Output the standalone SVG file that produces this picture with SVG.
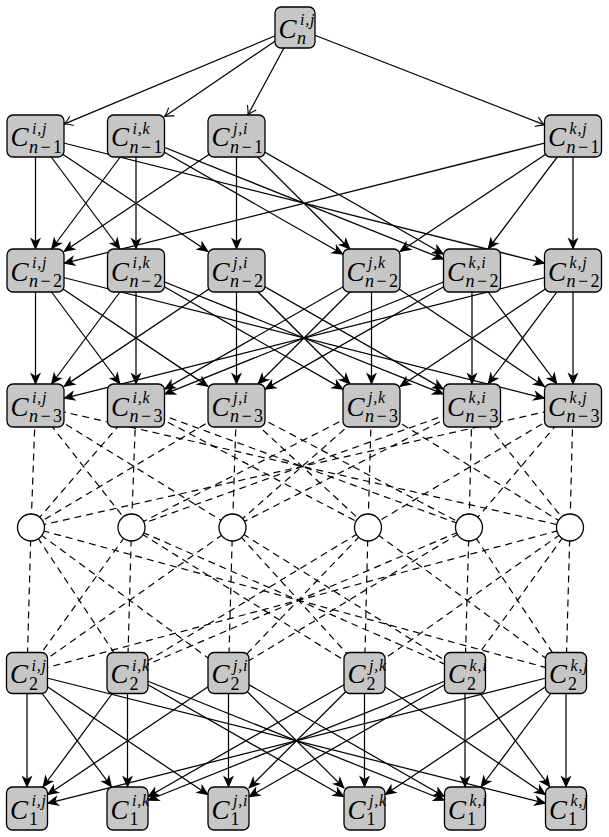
<svg xmlns="http://www.w3.org/2000/svg" width="609" height="837" viewBox="0 0 609 837">
<style>
.nd{fill:#c6c6c6;stroke:#000;stroke-width:1.3}
.ci{fill:#fff;stroke:#000;stroke-width:1.3}
.e{stroke:#000;stroke-width:1.25;fill:none;marker-end:url(#ah)}
.t{stroke:#000;stroke-width:1.25;fill:none;marker-end:url(#to)}
.d{stroke:#000;stroke-width:1.2;fill:none;stroke-dasharray:7 5}
text{font-family:"Liberation Serif",serif;font-style:italic;fill:#000}
.C{font-size:27px}
.s{font-size:16px;letter-spacing:0.8px}
.b{font-size:18px}
.u{font-style:normal}
</style>
<defs>
<marker id="ah" viewBox="-13 -6 15 12" refX="0" refY="0" markerWidth="15" markerHeight="12" markerUnits="userSpaceOnUse" orient="auto"><path d="M1,0 L-11.5,-5.5 L-8,0 L-11.5,5.5 Z" fill="#000"/></marker>
<marker id="to" viewBox="-10 -6 12 12" refX="0" refY="0" markerWidth="12" markerHeight="12" markerUnits="userSpaceOnUse" orient="auto"><path d="M-8.5,-5 Q-3,-1 0,0 Q-3,1 -8.5,5" fill="none" stroke="#000" stroke-width="1.1"/></marker>
</defs>
<g id="connectors">
<line class="t" x1="295" y1="27.5" x2="64" y2="124.08"/>
<line class="t" x1="295" y1="27.5" x2="164.5" y2="116.55"/>
<line class="t" x1="295" y1="27.5" x2="247.82" y2="115"/>
<line class="t" x1="295" y1="27.5" x2="544.5" y2="124.88"/>

<line class="e" x1="35.5" y1="136" x2="35.5" y2="249"/>
<line class="e" x1="136" y1="136" x2="51.57" y2="249"/>
<line class="e" x1="236.5" y1="136" x2="64" y2="251.43"/>
<line class="e" x1="573" y1="136" x2="64" y2="263.37"/>
<line class="e" x1="35.5" y1="136" x2="119.93" y2="249"/>
<line class="e" x1="136" y1="136" x2="136" y2="249"/>
<line class="e" x1="35.5" y1="136" x2="208" y2="251.43"/>
<line class="e" x1="236.5" y1="136" x2="236.5" y2="249"/>
<line class="e" x1="136" y1="136" x2="343" y2="254.22"/>
<line class="e" x1="236.5" y1="136" x2="349.92" y2="249"/>
<line class="e" x1="573" y1="136" x2="400" y2="251.48"/>
<line class="e" x1="136" y1="136" x2="443.5" y2="259.09"/>
<line class="e" x1="236.5" y1="136" x2="443.5" y2="254.22"/>
<line class="e" x1="573" y1="136" x2="488.14" y2="249"/>
<line class="e" x1="35.5" y1="136" x2="544.5" y2="263.37"/>
<line class="e" x1="573" y1="136" x2="573" y2="249"/>

<line class="e" x1="35.5" y1="270.5" x2="35.5" y2="384"/>
<line class="e" x1="136" y1="270.5" x2="51.51" y2="384"/>
<line class="e" x1="236.5" y1="270.5" x2="64" y2="386.36"/>
<line class="e" x1="573" y1="270.5" x2="64" y2="398.34"/>
<line class="e" x1="35.5" y1="270.5" x2="119.99" y2="384"/>
<line class="e" x1="136" y1="270.5" x2="136" y2="384"/>
<line class="e" x1="371.5" y1="270.5" x2="164.5" y2="389.16"/>
<line class="e" x1="472" y1="270.5" x2="164.5" y2="394.05"/>
<line class="e" x1="35.5" y1="270.5" x2="208" y2="386.36"/>
<line class="e" x1="236.5" y1="270.5" x2="236.5" y2="384"/>
<line class="e" x1="371.5" y1="270.5" x2="258" y2="384"/>
<line class="e" x1="472" y1="270.5" x2="265" y2="389.16"/>
<line class="e" x1="136" y1="270.5" x2="343" y2="389.16"/>
<line class="e" x1="236.5" y1="270.5" x2="350" y2="384"/>
<line class="e" x1="371.5" y1="270.5" x2="371.5" y2="384"/>
<line class="e" x1="573" y1="270.5" x2="400" y2="386.41"/>
<line class="e" x1="136" y1="270.5" x2="443.5" y2="394.05"/>
<line class="e" x1="236.5" y1="270.5" x2="443.5" y2="389.16"/>
<line class="e" x1="472" y1="270.5" x2="472" y2="384"/>
<line class="e" x1="573" y1="270.5" x2="488.09" y2="384"/>
<line class="e" x1="35.5" y1="270.5" x2="544.5" y2="398.34"/>
<line class="e" x1="371.5" y1="270.5" x2="544.5" y2="386.41"/>
<line class="e" x1="472" y1="270.5" x2="556.91" y2="384"/>
<line class="e" x1="573" y1="270.5" x2="573" y2="384"/>

<line class="d" x1="35.5" y1="405.5" x2="31" y2="527.5"/>
<line class="d" x1="35.5" y1="405.5" x2="131.5" y2="527.5"/>
<line class="d" x1="35.5" y1="405.5" x2="232.5" y2="527.5"/>
<line class="d" x1="35.5" y1="405.5" x2="570" y2="527.5"/>
<line class="d" x1="136" y1="405.5" x2="31" y2="527.5"/>
<line class="d" x1="136" y1="405.5" x2="131.5" y2="527.5"/>
<line class="d" x1="136" y1="405.5" x2="368" y2="527.5"/>
<line class="d" x1="136" y1="405.5" x2="469" y2="527.5"/>
<line class="d" x1="236.5" y1="405.5" x2="31" y2="527.5"/>
<line class="d" x1="236.5" y1="405.5" x2="232.5" y2="527.5"/>
<line class="d" x1="236.5" y1="405.5" x2="368" y2="527.5"/>
<line class="d" x1="236.5" y1="405.5" x2="469" y2="527.5"/>
<line class="d" x1="371.5" y1="405.5" x2="131.5" y2="527.5"/>
<line class="d" x1="371.5" y1="405.5" x2="232.5" y2="527.5"/>
<line class="d" x1="371.5" y1="405.5" x2="368" y2="527.5"/>
<line class="d" x1="371.5" y1="405.5" x2="570" y2="527.5"/>
<line class="d" x1="472" y1="405.5" x2="131.5" y2="527.5"/>
<line class="d" x1="472" y1="405.5" x2="232.5" y2="527.5"/>
<line class="d" x1="472" y1="405.5" x2="469" y2="527.5"/>
<line class="d" x1="472" y1="405.5" x2="570" y2="527.5"/>
<line class="d" x1="573" y1="405.5" x2="31" y2="527.5"/>
<line class="d" x1="573" y1="405.5" x2="368" y2="527.5"/>
<line class="d" x1="573" y1="405.5" x2="469" y2="527.5"/>
<line class="d" x1="573" y1="405.5" x2="570" y2="527.5"/>

<line class="d" x1="31" y1="527.5" x2="27" y2="673"/>
<line class="d" x1="31" y1="527.5" x2="127.5" y2="673"/>
<line class="d" x1="31" y1="527.5" x2="228.5" y2="673"/>
<line class="d" x1="31" y1="527.5" x2="566" y2="673"/>
<line class="d" x1="131.5" y1="527.5" x2="27" y2="673"/>
<line class="d" x1="131.5" y1="527.5" x2="127.5" y2="673"/>
<line class="d" x1="131.5" y1="527.5" x2="364.5" y2="673"/>
<line class="d" x1="131.5" y1="527.5" x2="465" y2="673"/>
<line class="d" x1="232.5" y1="527.5" x2="27" y2="673"/>
<line class="d" x1="232.5" y1="527.5" x2="228.5" y2="673"/>
<line class="d" x1="232.5" y1="527.5" x2="364.5" y2="673"/>
<line class="d" x1="232.5" y1="527.5" x2="465" y2="673"/>
<line class="d" x1="368" y1="527.5" x2="127.5" y2="673"/>
<line class="d" x1="368" y1="527.5" x2="228.5" y2="673"/>
<line class="d" x1="368" y1="527.5" x2="364.5" y2="673"/>
<line class="d" x1="368" y1="527.5" x2="566" y2="673"/>
<line class="d" x1="469" y1="527.5" x2="127.5" y2="673"/>
<line class="d" x1="469" y1="527.5" x2="228.5" y2="673"/>
<line class="d" x1="469" y1="527.5" x2="465" y2="673"/>
<line class="d" x1="469" y1="527.5" x2="566" y2="673"/>
<line class="d" x1="570" y1="527.5" x2="27" y2="673"/>
<line class="d" x1="570" y1="527.5" x2="364.5" y2="673"/>
<line class="d" x1="570" y1="527.5" x2="465" y2="673"/>
<line class="d" x1="570" y1="527.5" x2="566" y2="673"/>

<line class="e" x1="27" y1="673" x2="27" y2="787"/>
<line class="e" x1="127.5" y1="673" x2="42.95" y2="787"/>
<line class="e" x1="228.5" y1="673" x2="47.5" y2="794.71"/>
<line class="e" x1="566" y1="673" x2="47.5" y2="803.35"/>
<line class="e" x1="27" y1="673" x2="111.55" y2="787"/>
<line class="e" x1="127.5" y1="673" x2="127.5" y2="787"/>
<line class="e" x1="364.5" y1="673" x2="148" y2="796.78"/>
<line class="e" x1="465" y1="673" x2="148" y2="800.27"/>
<line class="e" x1="27" y1="673" x2="208" y2="794.71"/>
<line class="e" x1="228.5" y1="673" x2="228.5" y2="787"/>
<line class="e" x1="364.5" y1="673" x2="249" y2="788.07"/>
<line class="e" x1="465" y1="673" x2="249" y2="796.75"/>
<line class="e" x1="127.5" y1="673" x2="344" y2="796.78"/>
<line class="e" x1="228.5" y1="673" x2="344" y2="788.07"/>
<line class="e" x1="364.5" y1="673" x2="364.5" y2="787"/>
<line class="e" x1="566" y1="673" x2="385" y2="794.71"/>
<line class="e" x1="127.5" y1="673" x2="444.5" y2="800.27"/>
<line class="e" x1="228.5" y1="673" x2="444.5" y2="796.75"/>
<line class="e" x1="465" y1="673" x2="465" y2="787"/>
<line class="e" x1="566" y1="673" x2="481.03" y2="787"/>
<line class="e" x1="27" y1="673" x2="545.5" y2="803.35"/>
<line class="e" x1="364.5" y1="673" x2="545.5" y2="794.71"/>
<line class="e" x1="465" y1="673" x2="549.97" y2="787"/>
<line class="e" x1="566" y1="673" x2="566" y2="787"/>
</g>

<g id="n_top"><rect class="nd" x="275" y="7" width="40" height="41" rx="6"/><text class="C" x="278.5" y="37.5">C</text><text class="s" x="300" y="25">i,j</text><text class="b" x="297" y="44">n</text></g>

<g id="n1_ij"><rect class="nd" x="7" y="115" width="57" height="42" rx="6"/><text class="C" x="10.5" y="146">C</text><text class="s" x="32" y="133.5">i,j</text><text class="b" x="29" y="152.5" textLength="33" lengthAdjust="spacing">n<tspan class="u">−1</tspan></text></g>
<g id="n1_ik"><rect class="nd" x="107.5" y="115" width="57" height="42" rx="6"/><text class="C" x="111" y="146">C</text><text class="s" x="132.5" y="133.5">i,k</text><text class="b" x="129.5" y="152.5" textLength="33" lengthAdjust="spacing">n<tspan class="u">−1</tspan></text></g>
<g id="n1_ji"><rect class="nd" x="208" y="115" width="57" height="42" rx="6"/><text class="C" x="211.5" y="146">C</text><text class="s" x="233" y="133.5">j,i</text><text class="b" x="230" y="152.5" textLength="33" lengthAdjust="spacing">n<tspan class="u">−1</tspan></text></g>
<g id="n1_kj"><rect class="nd" x="544.5" y="115" width="57" height="42" rx="6"/><text class="C" x="548" y="146">C</text><text class="s" x="569.5" y="133.5">k,j</text><text class="b" x="566.5" y="152.5" textLength="33" lengthAdjust="spacing">n<tspan class="u">−1</tspan></text></g>

<g id="n2_ij"><rect class="nd" x="7" y="249" width="57" height="43" rx="6"/><text class="C" x="10.5" y="280.5">C</text><text class="s" x="32" y="268">i,j</text><text class="b" x="29" y="287" textLength="33" lengthAdjust="spacing">n<tspan class="u">−2</tspan></text></g>
<g id="n2_ik"><rect class="nd" x="107.5" y="249" width="57" height="43" rx="6"/><text class="C" x="111" y="280.5">C</text><text class="s" x="132.5" y="268">i,k</text><text class="b" x="129.5" y="287" textLength="33" lengthAdjust="spacing">n<tspan class="u">−2</tspan></text></g>
<g id="n2_ji"><rect class="nd" x="208" y="249" width="57" height="43" rx="6"/><text class="C" x="211.5" y="280.5">C</text><text class="s" x="233" y="268">j,i</text><text class="b" x="230" y="287" textLength="33" lengthAdjust="spacing">n<tspan class="u">−2</tspan></text></g>
<g id="n2_jk"><rect class="nd" x="343" y="249" width="57" height="43" rx="6"/><text class="C" x="346.5" y="280.5">C</text><text class="s" x="368" y="268">j,k</text><text class="b" x="365" y="287" textLength="33" lengthAdjust="spacing">n<tspan class="u">−2</tspan></text></g>
<g id="n2_ki"><rect class="nd" x="443.5" y="249" width="57" height="43" rx="6"/><text class="C" x="447" y="280.5">C</text><text class="s" x="468.5" y="268">k,i</text><text class="b" x="465.5" y="287" textLength="33" lengthAdjust="spacing">n<tspan class="u">−2</tspan></text></g>
<g id="n2_kj"><rect class="nd" x="544.5" y="249" width="57" height="43" rx="6"/><text class="C" x="548" y="280.5">C</text><text class="s" x="569.5" y="268">k,j</text><text class="b" x="566.5" y="287" textLength="33" lengthAdjust="spacing">n<tspan class="u">−2</tspan></text></g>

<g id="n3_ij"><rect class="nd" x="7" y="384" width="57" height="43" rx="6"/><text class="C" x="10.5" y="415.5">C</text><text class="s" x="32" y="403">i,j</text><text class="b" x="29" y="422" textLength="33" lengthAdjust="spacing">n<tspan class="u">−3</tspan></text></g>
<g id="n3_ik"><rect class="nd" x="107.5" y="384" width="57" height="43" rx="6"/><text class="C" x="111" y="415.5">C</text><text class="s" x="132.5" y="403">i,k</text><text class="b" x="129.5" y="422" textLength="33" lengthAdjust="spacing">n<tspan class="u">−3</tspan></text></g>
<g id="n3_ji"><rect class="nd" x="208" y="384" width="57" height="43" rx="6"/><text class="C" x="211.5" y="415.5">C</text><text class="s" x="233" y="403">j,i</text><text class="b" x="230" y="422" textLength="33" lengthAdjust="spacing">n<tspan class="u">−3</tspan></text></g>
<g id="n3_jk"><rect class="nd" x="343" y="384" width="57" height="43" rx="6"/><text class="C" x="346.5" y="415.5">C</text><text class="s" x="368" y="403">j,k</text><text class="b" x="365" y="422" textLength="33" lengthAdjust="spacing">n<tspan class="u">−3</tspan></text></g>
<g id="n3_ki"><rect class="nd" x="443.5" y="384" width="57" height="43" rx="6"/><text class="C" x="447" y="415.5">C</text><text class="s" x="468.5" y="403">k,i</text><text class="b" x="465.5" y="422" textLength="33" lengthAdjust="spacing">n<tspan class="u">−3</tspan></text></g>
<g id="n3_kj"><rect class="nd" x="544.5" y="384" width="57" height="43" rx="6"/><text class="C" x="548" y="415.5">C</text><text class="s" x="569.5" y="403">k,j</text><text class="b" x="566.5" y="422" textLength="33" lengthAdjust="spacing">n<tspan class="u">−3</tspan></text></g>

<g id="o1"><circle class="ci" cx="31" cy="527.5" r="13.5"/></g>
<g id="o2"><circle class="ci" cx="131.5" cy="527.5" r="13.5"/></g>
<g id="o3"><circle class="ci" cx="232.5" cy="527.5" r="13.5"/></g>
<g id="o4"><circle class="ci" cx="368" cy="527.5" r="13.5"/></g>
<g id="o5"><circle class="ci" cx="469" cy="527.5" r="13.5"/></g>
<g id="o6"><circle class="ci" cx="570" cy="527.5" r="13.5"/></g>

<g id="c2_ij"><rect class="nd" x="6.5" y="652.5" width="41" height="41" rx="6"/><text class="C" x="10" y="683">C</text><text class="s" x="31.5" y="670.5">i,j</text><text class="b u" x="29" y="689.5">2</text></g>
<g id="c2_ik"><rect class="nd" x="107" y="652.5" width="41" height="41" rx="6"/><text class="C" x="110.5" y="683">C</text><text class="s" x="132" y="670.5">i,k</text><text class="b u" x="129.5" y="689.5">2</text></g>
<g id="c2_ji"><rect class="nd" x="208" y="652.5" width="41" height="41" rx="6"/><text class="C" x="211.5" y="683">C</text><text class="s" x="233" y="670.5">j,i</text><text class="b u" x="230.5" y="689.5">2</text></g>
<g id="c2_jk"><rect class="nd" x="344" y="652.5" width="41" height="41" rx="6"/><text class="C" x="347.5" y="683">C</text><text class="s" x="369" y="670.5">j,k</text><text class="b u" x="366.5" y="689.5">2</text></g>
<g id="c2_ki"><rect class="nd" x="444.5" y="652.5" width="41" height="41" rx="6"/><text class="C" x="448" y="683">C</text><text class="s" x="469.5" y="670.5">k,i</text><text class="b u" x="467" y="689.5">2</text></g>
<g id="c2_kj"><rect class="nd" x="545.5" y="652.5" width="41" height="41" rx="6"/><text class="C" x="549" y="683">C</text><text class="s" x="570.5" y="670.5">k,j</text><text class="b u" x="568" y="689.5">2</text></g>

<g id="c1_ij"><rect class="nd" x="6.5" y="787" width="41" height="43" rx="6"/><text class="C" x="10" y="818.5">C</text><text class="s" x="31.5" y="806">i,j</text><text class="b u" x="29" y="825">1</text></g>
<g id="c1_ik"><rect class="nd" x="107" y="787" width="41" height="43" rx="6"/><text class="C" x="110.5" y="818.5">C</text><text class="s" x="132" y="806">i,k</text><text class="b u" x="129.5" y="825">1</text></g>
<g id="c1_ji"><rect class="nd" x="208" y="787" width="41" height="43" rx="6"/><text class="C" x="211.5" y="818.5">C</text><text class="s" x="233" y="806">j,i</text><text class="b u" x="230.5" y="825">1</text></g>
<g id="c1_jk"><rect class="nd" x="344" y="787" width="41" height="43" rx="6"/><text class="C" x="347.5" y="818.5">C</text><text class="s" x="369" y="806">j,k</text><text class="b u" x="366.5" y="825">1</text></g>
<g id="c1_ki"><rect class="nd" x="444.5" y="787" width="41" height="43" rx="6"/><text class="C" x="448" y="818.5">C</text><text class="s" x="469.5" y="806">k,i</text><text class="b u" x="467" y="825">1</text></g>
<g id="c1_kj"><rect class="nd" x="545.5" y="787" width="41" height="43" rx="6"/><text class="C" x="549" y="818.5">C</text><text class="s" x="570.5" y="806">k,j</text><text class="b u" x="568" y="825">1</text></g>
</svg>
